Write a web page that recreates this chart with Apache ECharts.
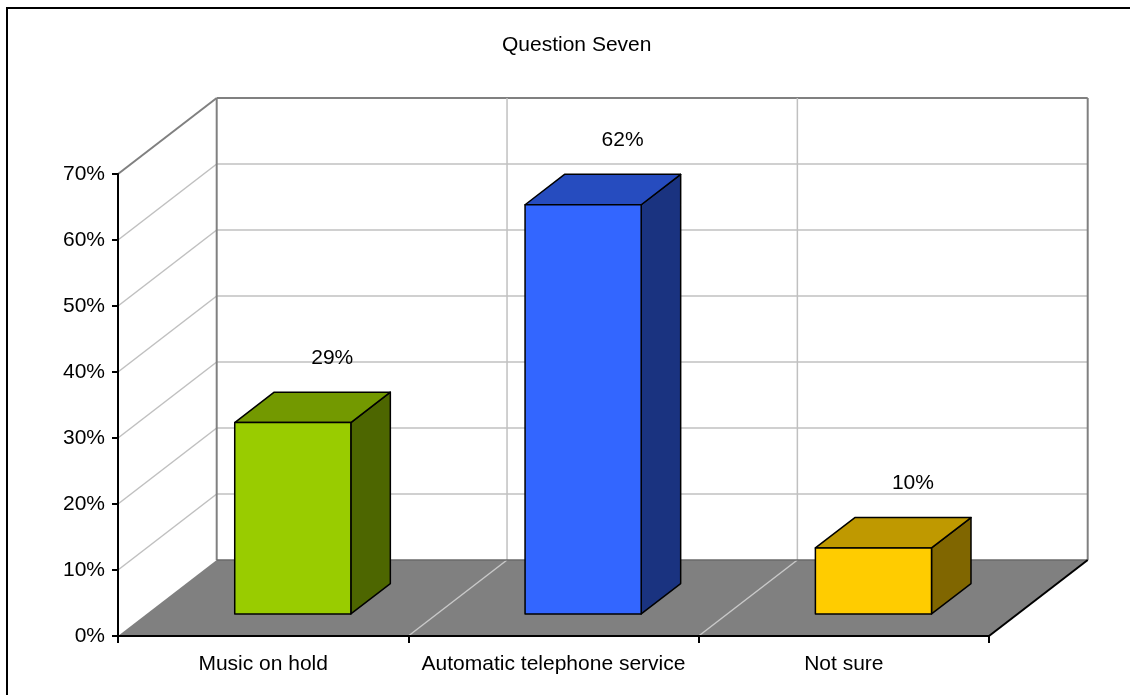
<!DOCTYPE html>
<html>
<head>
<meta charset="utf-8">
<script src="https://cdn.jsdelivr.net/npm/echarts@6/dist/echarts.min.js"></script>
<style>
  html, body { margin: 0; padding: 0; background: #ffffff; }
  #chart { width: 1130px; height: 695px; }
</style>
</head>
<body>
<div id="chart"></div>
<script>
// Survey answers for question seven (share of respondents, %)
const categories = ['Music on hold', 'Automatic telephone service', 'Not sure'];
const shares = [29, 62, 10];
const yTicks = [0, 10, 20, 30, 40, 50, 60, 70];

// Box colours: front face, top face, right side face
const faceColors = ['#99CC00', '#3366FF', '#FFCC00'];
const topColors = ['#739900', '#264CBF', '#BF9900'];
const sideColors = ['#4D6600', '#1A3380', '#806600'];

// Oblique projection of the depth axis (pixels from front plane to back wall)
const DX = 98.7, DY = -76;
const BAR_FRONT = 0.29, BAR_BACK = 0.69, BAR_WIDTH = 0.4;
const FONT = "'Liberation Sans', Arial, sans-serif";

const chart = echarts.init(document.getElementById('chart'), null, { renderer: 'canvas' });

function line(x1, y1, x2, y2, color, w) {
  return { type: 'line', shape: { x1, y1, x2, y2 }, style: { stroke: color, lineWidth: w } };
}

// Floor, back wall and side wall with their gridlines
function renderWalls(params, api) {
  const band = api.size([1, 0])[0];
  const left = api.coord([0, 0])[0] - band / 2;
  const bottom = api.coord([0, 0])[1];
  const maxV = yTicks[yTicks.length - 1];
  const top = api.coord([0, maxV])[1];
  const n = categories.length;
  const right = left + band * n;
  const kids = [];
  kids.push({ type: 'polygon', shape: { points: [[left, bottom], [right, bottom], [right + DX, bottom + DY], [left + DX, bottom + DY]] },
    style: { fill: '#808080' } });
  yTicks.forEach(v => {
    if (v === 0) return;
    const y = api.coord([0, v])[1];
    const c = v === maxV ? '#808080' : '#C0C0C0';
    const w = v === maxV ? 2 : 1.5;
    kids.push(line(left, y, left + DX, y + DY, c, w));
    kids.push(line(left + DX, y + DY, right + DX, y + DY, c, w));
  });
  for (let i = 0; i <= n; i++) {
    const x = left + band * i + DX;
    const edge = i === 0 || i === n;
    kids.push(line(x, top + DY, x, bottom + DY, edge ? '#808080' : '#C0C0C0', edge ? 2 : 1.5));
  }
  for (let i = 1; i < n; i++) {
    const x = left + band * i;
    kids.push(line(x, bottom, x + DX, bottom + DY, '#C8C8C8', 1.5));
  }
  kids.push(line(left + DX, bottom + DY, right + DX, bottom + DY, '#6A6A6A', 1.5));
  kids.push(line(right, bottom, right + DX, bottom + DY, '#000000', 2));
  return { type: 'group', children: kids };
}

// One 3D box per answer, with its value label above the back edge
function renderBar(params, api) {
  const i = api.value(0), v = api.value(1);
  const band = api.size([1, 0])[0];
  const base = api.coord([i, 0]);
  const tip = api.coord([i, v]);
  const w = band * BAR_WIDTH;
  const fx = base[0] - w / 2 + BAR_FRONT * DX + 1;
  const fy0 = base[1] + BAR_FRONT * DY;
  const fy1 = tip[1] + BAR_FRONT * DY;
  const ddx = (BAR_BACK - BAR_FRONT) * DX, ddy = (BAR_BACK - BAR_FRONT) * DY;
  const edge = { stroke: '#000000', lineWidth: 1.5, lineJoin: 'round' };
  return {
    type: 'group',
    children: [
      { type: 'polygon', shape: { points: [[fx + w, fy1], [fx + w + ddx, fy1 + ddy], [fx + w + ddx, fy0 + ddy], [fx + w, fy0]] },
        style: Object.assign({ fill: sideColors[i] }, edge) },
      { type: 'polygon', shape: { points: [[fx, fy1], [fx + w, fy1], [fx + w + ddx, fy1 + ddy], [fx + ddx, fy1 + ddy]] },
        style: Object.assign({ fill: topColors[i] }, edge) },
      { type: 'rect', shape: { x: fx, y: fy1, width: w, height: fy0 - fy1 },
        style: Object.assign({ fill: faceColors[i] }, edge) },
      { type: 'text', x: base[0] + BAR_BACK * DX + 1, y: tip[1] + BAR_BACK * DY - 34,
        style: { text: v + '%', fill: '#000', font: '21px ' + FONT, align: 'center', verticalAlign: 'middle' } }
    ]
  };
}

chart.setOption({
  backgroundColor: '#ffffff',
  animation: false,
  title: {
    text: 'Question Seven', left: 497, top: 30,
    textStyle: { fontSize: 21, fontWeight: 'normal', color: '#000', fontFamily: FONT }
  },
  graphic: [{
    type: 'rect', shape: { x: 7, y: 8, width: 1200, height: 800 },
    style: { fill: 'none', stroke: '#000', lineWidth: 2 }, z: 100, silent: true
  }],
  grid: { left: 118, top: 174, width: 871, height: 462 },
  xAxis: {
    type: 'category', data: categories, boundaryGap: true, z: 10,
    axisLine: { lineStyle: { color: '#000', width: 2 } },
    axisTick: { show: true, length: 7, lineStyle: { color: '#000', width: 2 } },
    axisLabel: { color: '#000', fontSize: 21, fontFamily: FONT, margin: 18, interval: 0 },
    splitLine: { show: false }
  },
  yAxis: {
    type: 'value', min: 0, max: 70, interval: 10, z: 10,
    axisLine: { show: true, lineStyle: { color: '#000', width: 2 } },
    axisTick: { show: true, length: 6, lineStyle: { color: '#000', width: 2 } },
    axisLabel: { color: '#000', fontSize: 21, fontFamily: FONT, margin: 13, formatter: '{value}%' },
    splitLine: { show: false }
  },
  series: [
    { type: 'custom', clip: false, z: 1, silent: true, data: [[0, 0]], renderItem: renderWalls },
    { type: 'custom', clip: false, z: 3, silent: true, data: shares.map((v, i) => [i, v]), renderItem: renderBar }
  ]
});
</script>
</body>
</html>
